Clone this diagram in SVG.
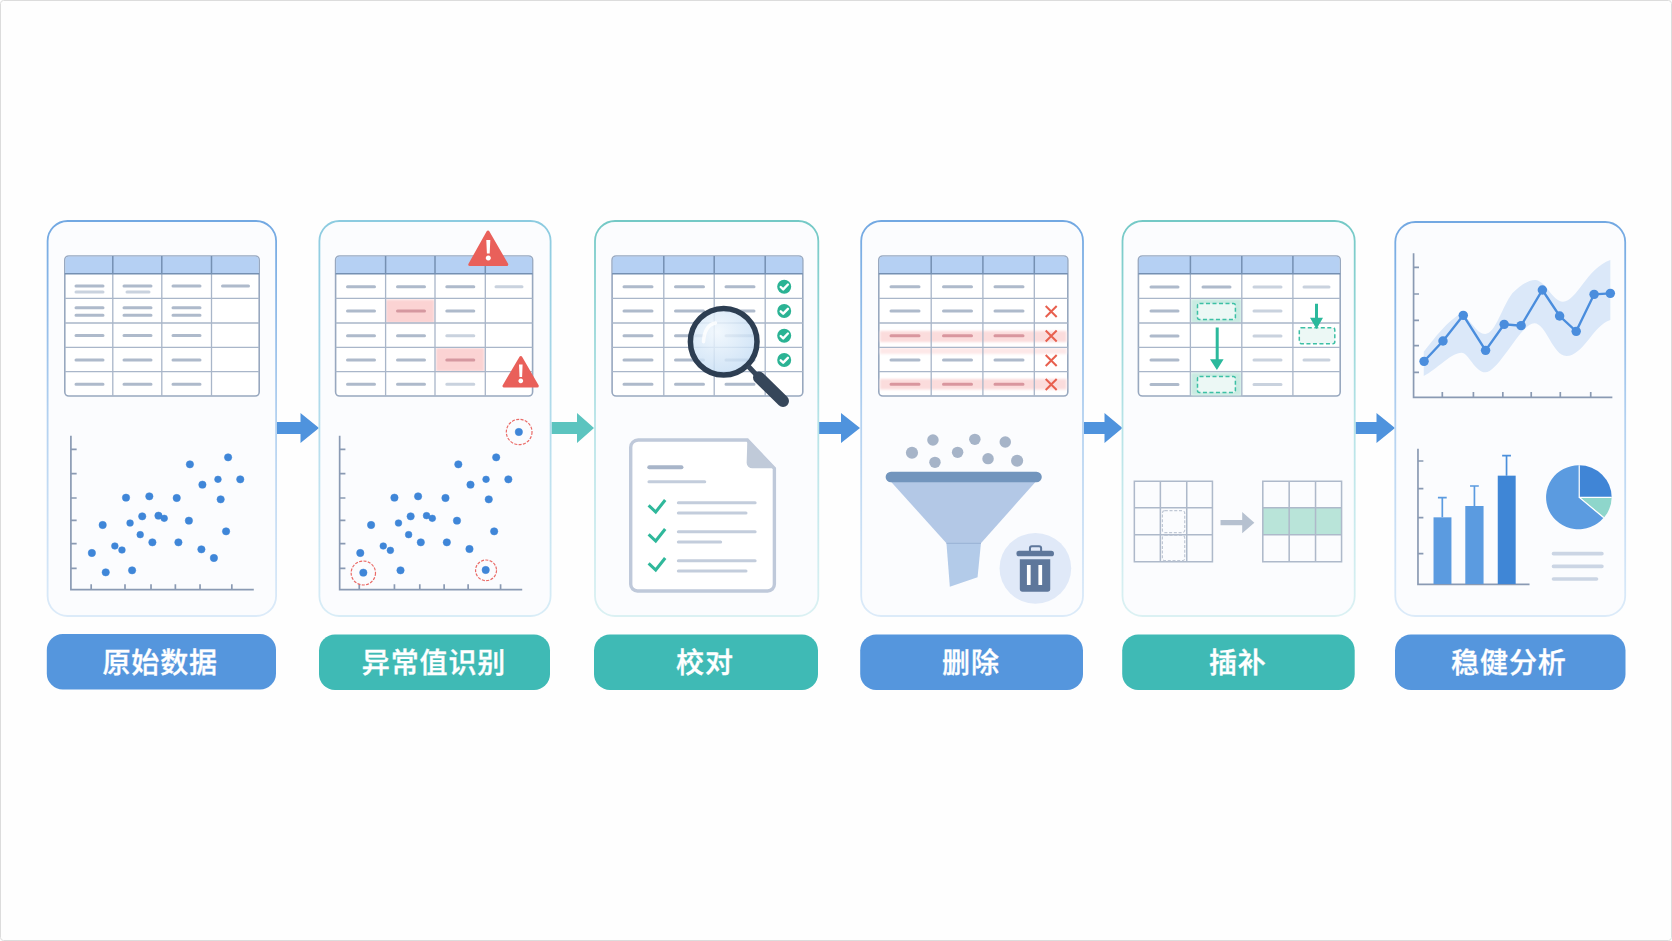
<svg xmlns="http://www.w3.org/2000/svg" width="1672" height="941" viewBox="0 0 1672 941">
<style>
text{font-family:"Noto Sans CJK SC","Noto Sans",sans-serif;font-size:28px;font-weight:500;fill:#fff;stroke:#fff;stroke-width:.35px;text-anchor:middle;letter-spacing:.9px}
.card{fill:#fbfcfe;stroke-width:1.8}
.b{stroke:url(#gb)}.t{stroke:url(#gt)}.tt{stroke:url(#gtt)}
.lb{fill:#5596dd}.lt{fill:#3fbab5}
.tb{fill:#fff;stroke:#98a8bf;stroke-width:1.6}
.hd{fill:#b5d0f3}
.gr{fill:none;stroke:#a9b6c9;stroke-width:1.3}
.hdl{fill:none;stroke:#7590b2;stroke-width:1.5}
.d{fill:none;stroke:#aebacb;stroke-width:3;stroke-linecap:round}
.dl{fill:none;stroke:#c9d2de;stroke-width:3;stroke-linecap:round}
.ax{fill:none;stroke:#8a9ab3;stroke-width:5}
.dot{fill:#3f86d8;stroke:#3f86d8;stroke-width:1.5}
.ring{fill:none;stroke:#ea6a66;stroke-width:3.5;stroke-dasharray:9 4}
.tri{fill:#e9605a;stroke:#e9605a;stroke-width:3;stroke-linejoin:round}
.ok{fill:#2bb394}
.wck{fill:none;stroke:#fff;stroke-width:2.4;stroke-linecap:round;stroke-linejoin:round}
.gck{fill:none;stroke:#2fb89b;stroke-width:9;stroke-linejoin:miter}
.x{fill:none;stroke:#e8604f;stroke-width:2}
.red{fill:#fbd3d3;filter:url(#bl)}
.band{fill:#fbdcdc;filter:url(#bl)}
.pale{fill:#fde8e8;filter:url(#bl)}
.grn{fill:#c9ebe2;filter:url(#bl)}
.dash{fill:#ecf8f5;stroke:#3cc0a5;stroke-width:1.5;stroke-dasharray:4 2.5}
.ga{fill:#2bb99c}
.gline{fill:none;stroke:#2bb99c;stroke-width:3}
.dl2{fill:none;stroke:#c3cddc;stroke-width:9;stroke-linecap:round}
.gdash{fill:none;stroke:#c0c8d5;stroke-width:3.5;stroke-dasharray:9 5}
.grid{fill:none;stroke:#aeb9ca;stroke-width:4.5}
</style>
<defs>
<linearGradient id="gb" x1="0" y1="0" x2="0" y2="1"><stop offset="0" stop-color="#72a8e2"/><stop offset=".5" stop-color="#b3d1f0"/><stop offset="1" stop-color="#dcebf9"/></linearGradient>
<linearGradient id="gt" x1="0" y1="0" x2="0" y2="1"><stop offset="0" stop-color="#8ccbe0"/><stop offset="1" stop-color="#d9edf7"/></linearGradient>
<linearGradient id="gtt" x1="0" y1="0" x2="0" y2="1"><stop offset="0" stop-color="#74c9c6"/><stop offset=".5" stop-color="#b6e3e7"/><stop offset="1" stop-color="#dbf1f3"/></linearGradient>
<radialGradient id="lens" cx=".4" cy=".35" r=".7"><stop offset="0" stop-color="#f0f7fd" stop-opacity=".85"/><stop offset="1" stop-color="#c3dcf4" stop-opacity=".8"/></radialGradient>
<filter id="bl" x="-10%" y="-20%" width="120%" height="140%"><feGaussianBlur stdDeviation="1.2"/></filter>
</defs>
<rect x=".5" y=".5" width="1671" height="940" rx="3" fill="#fefefe" stroke="#dcdcdc"/>
<g id="connectors">
<path fill="#4f93dd" d="M277 422H300.500V413L319 428 300.500 443V434H277Z"/>
<path fill="#5cc4bf" d="M551.500 422H577V413L594 428 577 443V434H551.500Z"/>
<path fill="#4f93dd" d="M819 422H841V413L860 428 841 443V434H819Z"/>
<path fill="#4f93dd" d="M1084 422H1104.500V413L1122.500 428 1104.500 443V434H1084Z"/>
<path fill="#4f93dd" d="M1355.500 422H1376.500V413L1395 428 1376.500 443V434H1355.500Z"/>
</g>
<g id="node-1">
<rect class="card b" x="47.600" y="221" width="228.500" height="395" rx="20"/>
<rect class="tb" x="64.800" y="256" width="194.400" height="140" rx="4"/>
<path class="hd" d="M65.300 260a3.500 3.500 0 0 1 3.500-3.500H255.200a3.500 3.500 0 0 1 3.500 3.500V273.700H65.300Z"/>
<path class="gr" d="M64.800 298.300H259.200M64.800 323H259.200M64.800 347.300H259.200M64.800 371.700H259.200M112.800 274V396M161.800 274V396M211.500 274V396"/>
<path class="hdl" d="M64.800 273.700H259.200M112.800 256V274M161.800 256V274M211.500 256V274"/>
<path class="d" d="M76 286h27M124 286h27M173 286h27M222.500 286h26M76 307.700h27M124 307.700h27M173 307.700h27M76 315.300h27M124 315.300h27M173 315.300h27M76 335.500h27M124 335.500h27M173 335.500h27M76 360h27M124 360h27M173 360h27M76 384.300h27M124 384.300h27M173 384.300h27"/>
<path class="dl" d="M76 292h27M127 292h22"/>
<g transform="translate(30,400) scale(.33806,.33333)">
<path class="ax" d="M121 107V569H662M121 148H138M121 221H138M121 294H138M121 361H138M121 431H138M121 505H138M181 569V553M281 569V553M358 569V553M430 569V553M503 569V553M597 569V553"/>
<g class="dot"><circle cx="473" cy="193" r="11"/><circle cx="586" cy="172" r="11"/><circle cx="510" cy="254" r="11"/><circle cx="556" cy="238" r="10"/><circle cx="622" cy="238" r="11"/><circle cx="284" cy="293" r="11"/><circle cx="353" cy="289" r="11"/><circle cx="434" cy="294" r="11"/><circle cx="564" cy="298" r="11"/><circle cx="215" cy="375" r="11"/><circle cx="296" cy="369" r="10"/><circle cx="332" cy="349" r="11"/><circle cx="380" cy="347" r="11"/><circle cx="397" cy="355" r="10"/><circle cx="470" cy="362" r="11"/><circle cx="326" cy="404" r="10"/><circle cx="362" cy="427" r="11"/><circle cx="439" cy="427" r="11"/><circle cx="580" cy="394" r="11"/><circle cx="251" cy="438" r="10"/><circle cx="272" cy="450" r="10"/><circle cx="183" cy="459" r="11"/><circle cx="507" cy="448" r="11"/><circle cx="544" cy="474" r="11"/><circle cx="224" cy="517" r="11"/><circle cx="302" cy="511" r="11"/></g>
</g>
<rect class="lb" x="46.800" y="634" width="229.200" height="55.500" rx="16"/>
<text x="160.200" y="673">原始数据</text>
</g>
<g id="node-2">
<rect class="card t" x="319.400" y="221" width="231.200" height="395" rx="20"/>
<rect class="tb" x="335.600" y="256" width="197" height="140" rx="4"/>
<path class="hd" d="M336.100 260a3.500 3.500 0 0 1 3.500-3.500H528.600a3.500 3.500 0 0 1 3.500 3.500V273.700H336.100Z"/>
<rect class="red" x="386" y="299.500" width="48.500" height="23.500"/>
<rect class="red" x="436" y="348" width="48.500" height="23.500"/>
<path class="gr" d="M335.600 298.300H532.600M335.600 323H532.600M335.600 347.300H532.600M335.600 371.700H532.600M385.600 274V396M435 274V396M485.300 274V396"/>
<path class="hdl" d="M335.600 273.700H532.600M385.600 256V274M435 256V274M485.300 256V274"/>
<path class="d" d="M347.500 286.700h27M397.500 286.700h27M446.800 286.700h27M347.500 311h27M446.800 311h27M347.500 335.700h27M397.500 335.700h27M347.500 360h27M397.500 360h27M347.500 384.300h27M397.500 384.300h27"/>
<path class="dl" d="M496 286.700h26M446.800 335.700h27M446.800 384.300h27"/>
<path class="d" style="stroke:#d598a0" d="M397.500 311h27M446.800 360h27"/>
<path class="tri" d="M488 232L469.800 264.500H506.800Z"/>
<path fill="#fff" d="M486.300 240h4l-.6 13.500h-2.800ZM488.300 255.500a2.500 2.500 0 1 1-.01 0Z"/>
<path class="tri" d="M520.800 357.500L504 386H537.300Z"/>
<path fill="#fff" d="M519 364.500h3.600l-.5 12.500h-2.600ZM520.800 378.500a2.400 2.400 0 1 1-.01 0Z"/>
<g transform="translate(30,400) scale(.33806,.33333)">
<path class="ax" d="M916 107V569H1456M916 148H933M916 221H933M916 294H933M916 361H933M916 431H933M916 505H933M974 569V553M1078 569V553M1153 569V553M1225 569V553M1296 569V553M1392 569V553"/>
<g class="dot"><circle cx="1267" cy="193" r="11"/><circle cx="1379" cy="172" r="11"/><circle cx="1303" cy="254" r="11"/><circle cx="1349" cy="238" r="10"/><circle cx="1415" cy="238" r="11"/><circle cx="1078" cy="293" r="11"/><circle cx="1148" cy="289" r="11"/><circle cx="1229" cy="294" r="11"/><circle cx="1357" cy="298" r="11"/><circle cx="1009" cy="375" r="11"/><circle cx="1090" cy="369" r="10"/><circle cx="1126" cy="349" r="11"/><circle cx="1173" cy="347" r="10"/><circle cx="1190" cy="355" r="10"/><circle cx="1263" cy="362" r="11"/><circle cx="1120" cy="404" r="10"/><circle cx="1156" cy="427" r="11"/><circle cx="1233" cy="427" r="11"/><circle cx="1373" cy="394" r="11"/><circle cx="1045" cy="438" r="10"/><circle cx="1066" cy="451" r="10"/><circle cx="977" cy="459" r="11"/><circle cx="1300" cy="447" r="11"/><circle cx="986" cy="518" r="11"/><circle cx="1096" cy="511" r="11"/><circle cx="1348" cy="510" r="11"/><circle cx="1446" cy="96" r="11"/></g>
<circle class="ring" cx="986" cy="519" r="36"/><circle class="ring" cx="1349" cy="511" r="31"/><circle class="ring" cx="1447" cy="96" r="38"/>
</g>
<rect class="lt" x="319" y="634.500" width="231" height="55.500" rx="16"/>
<text x="434" y="673">异常值识别</text>
</g>
<g id="node-3">
<rect class="card tt" x="595" y="221" width="223.300" height="395" rx="20"/>
<rect class="tb" x="612.100" y="256" width="190.700" height="140" rx="4"/>
<path class="hd" d="M612.600 260a3.500 3.500 0 0 1 3.500-3.500H798.800a3.500 3.500 0 0 1 3.500 3.500V273.700H612.600Z"/>
<path class="gr" d="M612.100 298.300H802.800M612.100 323H802.800M612.100 347.300H802.800M612.100 371.700H802.800M663.800 274V396M714.200 274V396M765.200 274V396"/>
<path class="hdl" d="M612.100 273.700H802.800M663.800 256V274M714.200 256V274M765.200 256V274"/>
<path class="d" d="M624 286.700h28M675.500 286.700h28M726 286.700h28M624 311h28M675.500 311h28M726 311h28M624 335.700h28M675.500 335.700h28M726 335.700h28M624 360h28M675.500 360h28M726 360h28M624 384.300h28M675.500 384.300h28M726 384.300h28"/>
<g id="checks">
<circle class="ok" cx="784.200" cy="286.700" r="7"/><path class="wck" d="M780.700 287l2.500 2.400 4.700-4.900"/>
<circle class="ok" cx="784.200" cy="311" r="7"/><path class="wck" d="M780.700 311.300l2.500 2.400 4.700-4.900"/>
<circle class="ok" cx="784.200" cy="335.700" r="7"/><path class="wck" d="M780.700 336l2.500 2.400 4.700-4.900"/>
<circle class="ok" cx="784.200" cy="360" r="7"/><path class="wck" d="M780.700 360.300l2.500 2.400 4.700-4.900"/>
</g>
<g id="magnifier">
<circle cx="723.700" cy="341.700" r="33" fill="url(#lens)"/>
<path d="M703.500 341.700Q704.500 325 715.500 323" fill="none" stroke="#fff" stroke-width="3.500" stroke-linecap="round" opacity=".8"/>
<circle cx="723.700" cy="341.700" r="33.300" fill="none" stroke="#2d3e52" stroke-width="5.500"/>
<path d="M748 366L757 375.500" stroke="#36465a" stroke-width="5" fill="none"/>
<path d="M759 377.500L783 401" stroke="#36465a" stroke-width="12" stroke-linecap="round" fill="none"/>
</g>
<g transform="translate(580,400) scale(.33806,.33333)">
<path d="M172 120H495L575 205V553a20 20 0 0 1-20 20H170a20 20 0 0 1-20-20V142a22 22 0 0 1 22-22Z" fill="#fff" stroke="#bfc9da" stroke-width="10"/>
<path d="M495 120L578 205H510a17 17 0 0 1-17-17Z" fill="#c0cad9"/>
<path d="M205 202H300" stroke="#a8b5c9" stroke-width="12" stroke-linecap="round"/>
<path class="dl2" d="M204 245H369M291 308H518M291 339H491M291 395H518M291 426H416M291 482H518M291 513H491"/>
<path class="gck" d="M203 316L224 336L252 300M203 403L224 423L252 387M203 490L224 510L252 474"/>
</g>
<rect class="lt" x="594" y="634.500" width="224" height="55.500" rx="16"/>
<text x="705" y="673">校对</text>
</g>
<g id="node-4">
<rect class="card b" x="861.200" y="221" width="221.800" height="395" rx="20"/>
<rect class="tb" x="878.800" y="256" width="189" height="140" rx="4"/>
<path class="hd" d="M879.300 260a3.500 3.500 0 0 1 3.500-3.500H1063.800a3.500 3.500 0 0 1 3.500 3.500V273.700H879.300Z"/>
<rect class="band" x="880" y="331" width="186.500" height="11"/>
<rect class="pale" x="880" y="348" width="186.500" height="6"/>
<rect class="band" x="880" y="379" width="186.500" height="10.500"/>
<path class="gr" d="M878.800 298.300H1067.800M878.800 323H1067.800M878.800 347.300H1067.800M878.800 371.700H1067.800M931.200 274V396M982.900 274V396M1034.300 274V396"/>
<path class="hdl" d="M878.800 273.700H1067.800M931.200 256V274M982.900 256V274M1034.300 256V274"/>
<path class="d" d="M891 286.700h28M943.500 286.700h28M995 286.700h28M891 311h28M943.500 311h28M995 311h28M891 360h28M943.500 360h28M995 360h28"/>
<path class="d" style="stroke:#d9969e" d="M891 335.700h28M943.500 335.700h28M995 335.700h28M891 384.300h28M943.500 384.300h28M995 384.300h28"/>
<path class="x" d="M1045.700 306l11 11M1056.700 306l-11 11M1045.700 330.500l11 11M1056.700 330.500l-11 11M1045.700 355l11 11M1056.700 355l-11 11M1045.700 379l11 11M1056.700 379l-11 11"/>
<g transform="translate(580,400) scale(.33806,.33333)">
<g fill="#a6b4c8"><circle cx="982" cy="158" r="18"/><circle cx="1044" cy="120" r="17"/><circle cx="1050" cy="187" r="17"/><circle cx="1117" cy="157" r="17"/><circle cx="1168" cy="118" r="17"/><circle cx="1207" cy="176" r="17"/><circle cx="1258" cy="126" r="17"/><circle cx="1293" cy="182" r="18"/></g>
<path d="M920 245H1348L1186 430H1084Z" fill="#b3c8e6"/>
<path d="M1084 430H1186L1176 532L1094 560Z" fill="#b3cbe9"/>
<path d="M1084 430H1186" stroke="#9db6d8" stroke-width="4"/>
<rect x="904" y="215" width="462" height="32" rx="16" fill="#7295bd"/>
<circle cx="1347" cy="505" r="106" fill="#e0e9f8"/>
<path d="M1331 455V445a6 6 0 0 1 6-6H1358a6 6 0 0 1 6 6V455" fill="none" stroke="#5e779b" stroke-width="6"/>
<rect x="1291" y="452" width="111" height="17" rx="8" fill="#5e779b"/>
<path d="M1301 478H1391V567a8 8 0 0 1-8 8H1309a8 8 0 0 1-8-8Z" fill="#5e779b"/>
<path d="M1322 495h11v60h-11ZM1356 495h11v60h-11Z" fill="#fff"/>
</g>
<rect class="lb" x="860.200" y="634.500" width="222.800" height="55.500" rx="16"/>
<text x="971" y="673">删除</text>
</g>
<g id="node-5">
<rect class="card tt" x="1122.500" y="221" width="232.200" height="395" rx="20"/>
<rect class="tb" x="1138.400" y="256" width="201.800" height="140" rx="4"/>
<path class="hd" d="M1138.900 260a3.500 3.500 0 0 1 3.500-3.500H1336.200a3.500 3.500 0 0 1 3.500 3.500V273.700H1138.900Z"/>
<rect class="grn" x="1191" y="299" width="50.500" height="24"/>
<rect class="grn" x="1191" y="372.500" width="50.500" height="23"/>
<path class="gr" d="M1138.400 298.300H1340.200M1138.400 323H1340.200M1138.400 347.300H1340.200M1138.400 371.700H1340.200M1190.400 274V396M1241.800 274V396M1292.900 274V396"/>
<path class="hdl" d="M1138.400 273.700H1340.200M1190.400 256V274M1241.800 256V274M1292.900 256V274"/>
<path class="d" d="M1151 287h27M1203 287h27M1151 311h27M1151 336h27M1151 360h27M1151 384.500h27"/>
<path class="dl" d="M1254 287h27M1304 287h25M1254 311h27M1254 336h27M1254 360h27M1304 360h25M1254 384.500h27"/>
<rect class="dash" x="1197.500" y="303.500" width="37.900" height="16" rx="2"/>
<rect class="dash" x="1197.500" y="376.500" width="37.900" height="16" rx="2"/>
<rect class="dash" x="1299.300" y="327.700" width="35.500" height="16" rx="2"/>
<path class="gline" d="M1217.200 327.500V360M1316.500 303.700V319"/>
<path class="ga" d="M1210 359.300H1223.600L1216.900 370ZM1310 317.700H1323L1316.500 329Z"/>
<g transform="translate(1110,400) scale(.33806,.33333)">
<path class="grid" d="M72 244H303V485H72ZM149 244V485M227 244V485M72 323H303M72 404H303"/>
<path class="gdash" d="M162 332H214a7 7 0 0 1 7 7V391a7 7 0 0 1-7 7H162a7 7 0 0 1-7-7V339a7 7 0 0 1 7-7ZM162 406H214a7 7 0 0 1 7 7V475a7 7 0 0 1-7 7H162a7 7 0 0 1-7-7V413a7 7 0 0 1 7-7Z"/>
<path fill="#b6c1d0" d="M327 360H391V336L427 368L391 400V376H327Z"/>
<rect x="452" y="323" width="233" height="81" fill="#b9e4d9"/>
<path class="grid" d="M452 244H685V485H452ZM530 244V485M608 244V485M452 323H685M452 404H685"/>
</g>
<rect class="lt" x="1122.200" y="634.500" width="232.500" height="55.500" rx="16"/>
<text x="1237.800" y="673">插补</text>
</g>
<g id="node-6">
<rect class="card b" x="1395.300" y="222" width="229.900" height="394" rx="20"/>
<g transform="translate(1110,210) scale(.33806,.33333)">
<path fill="#dbe8f9" d="M928 425C960 385 1000 330 1040 310C1075 340 1085 372 1110 372C1140 372 1160 290 1190 250C1215 225 1240 208 1260 210C1290 215 1310 275 1340 275C1380 275 1410 175 1480 150V330C1430 345 1400 438 1350 438C1310 438 1290 340 1255 340C1215 340 1150 487 1110 487C1080 487 1060 428 1040 428C1010 428 970 475 928 498Z"/>
<path class="ax" d="M898 130V562H1486M898 172H914M898 252H914M898 331H914M898 407H914M898 487H914M983 562V546M1075 562V546M1162 562V546M1246 562V546M1332 562V546M1422 562V546"/>
<path d="M929 454L985 393L1045 316L1111 421L1166 343L1216 347L1279 240L1330 318L1379 364L1432 253L1480 250" fill="none" stroke="#4a8ddd" stroke-width="7"/>
<g fill="#4a8ddd"><circle cx="929" cy="454" r="14"/><circle cx="985" cy="393" r="14"/><circle cx="1045" cy="316" r="14"/><circle cx="1111" cy="421" r="14"/><circle cx="1166" cy="343" r="14"/><circle cx="1216" cy="347" r="14"/><circle cx="1279" cy="240" r="14"/><circle cx="1330" cy="318" r="14"/><circle cx="1379" cy="364" r="14"/><circle cx="1432" cy="253" r="14"/><circle cx="1480" cy="250" r="14"/></g>
</g>
<g transform="translate(1110,400) scale(.33806,.33333)">
<path class="ax" d="M911 146V553H1241M911 183H927M911 266H927M911 353H927M911 461H927"/>
<path d="M983 352V293M970 293H996M1078 318V258M1065 258H1091" fill="none" stroke="#5b9be0" stroke-width="5"/>
<path d="M1173 227V167M1160 167H1186" fill="none" stroke="#4b8fdb" stroke-width="5"/>
<rect x="957" y="352" width="53" height="200" fill="#5b9be0"/>
<rect x="1051" y="318" width="54" height="234" fill="#5b9be0"/>
<rect x="1147" y="227" width="53" height="325" fill="#3f86d6"/>
<path d="M1388 292L1460 353A96 96 0 1 1 1388 196Z" fill="#5b9be0"/>
<path d="M1388 292V196A96 96 0 0 1 1484 292Z" fill="#4085d6"/>
<path d="M1390 292H1484A96 96 0 0 1 1462 352Z" fill="#8ed6cb"/>
<path d="M1388 196V292H1484M1388 292L1460 353" fill="none" stroke="#fff" stroke-width="3.500"/>
<path d="M1312 461H1455M1312 499H1455M1312 537H1439" fill="none" stroke="#cbd5e4" stroke-width="11" stroke-linecap="round"/>
</g>
<rect class="lb" x="1395" y="634.500" width="230.500" height="55.500" rx="16"/>
<text x="1508.900" y="673">稳健分析</text>
</g>
</svg>
